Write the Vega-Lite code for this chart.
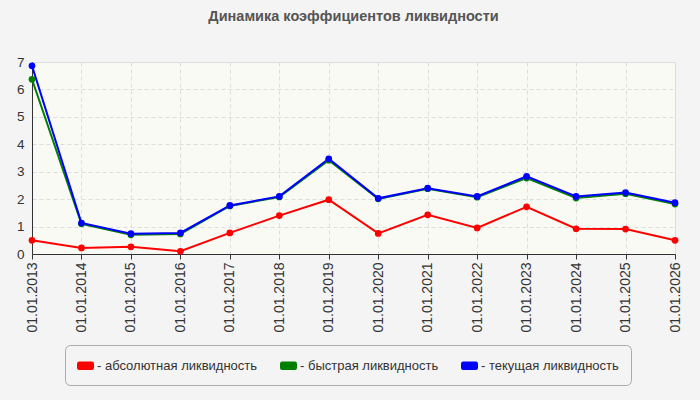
{
  "$schema": "https://vega.github.io/schema/vega-lite/v6.json",
  "autosize": "none",
  "width": 643,
  "height": 192,
  "padding": {"left": 32, "top": 62, "right": 25, "bottom": 146},
  "background": "#f4f4f4",
  "title": {"text": "Динамика коэффициентов ликвидности", "font": "Liberation Sans", "fontSize": 14.5, "fontWeight": "bold", "color": "#555555", "offset": 31, "anchor": "middle"},
  "config": {
    "font": "Liberation Sans",
    "view": {"fill": "#fafaf5", "stroke": "#dddddd"},
    "axis": {"labelFont": "Liberation Sans", "labelColor": "#333333", "domainColor": "#333333", "tickColor": "#333333", "gridColor": "#dddddd", "gridDash": [4, 3], "title": null}
  },
  "data": {"values": [
    {"date": "01.01.2013", "s": "абсолютная", "v": 0.50},
    {"date": "01.01.2014", "s": "абсолютная", "v": 0.22},
    {"date": "01.01.2015", "s": "абсолютная", "v": 0.26},
    {"date": "01.01.2016", "s": "абсолютная", "v": 0.10},
    {"date": "01.01.2017", "s": "абсолютная", "v": 0.77},
    {"date": "01.01.2018", "s": "абсолютная", "v": 1.40},
    {"date": "01.01.2019", "s": "абсолютная", "v": 1.98},
    {"date": "01.01.2020", "s": "абсолютная", "v": 0.75},
    {"date": "01.01.2021", "s": "абсолютная", "v": 1.43},
    {"date": "01.01.2022", "s": "абсолютная", "v": 0.95},
    {"date": "01.01.2023", "s": "абсолютная", "v": 1.72},
    {"date": "01.01.2024", "s": "абсолютная", "v": 0.92},
    {"date": "01.01.2025", "s": "абсолютная", "v": 0.91},
    {"date": "01.01.2026", "s": "абсолютная", "v": 0.50},
    {"date": "01.01.2013", "s": "быстрая", "v": 6.37},
    {"date": "01.01.2014", "s": "быстрая", "v": 1.10},
    {"date": "01.01.2015", "s": "быстрая", "v": 0.70},
    {"date": "01.01.2016", "s": "быстрая", "v": 0.73},
    {"date": "01.01.2017", "s": "быстрая", "v": 1.75},
    {"date": "01.01.2018", "s": "быстрая", "v": 2.08},
    {"date": "01.01.2019", "s": "быстрая", "v": 3.42},
    {"date": "01.01.2020", "s": "быстрая", "v": 2.01},
    {"date": "01.01.2021", "s": "быстрая", "v": 2.38},
    {"date": "01.01.2022", "s": "быстрая", "v": 2.07},
    {"date": "01.01.2023", "s": "быстрая", "v": 2.77},
    {"date": "01.01.2024", "s": "быстрая", "v": 2.04},
    {"date": "01.01.2025", "s": "быстрая", "v": 2.20},
    {"date": "01.01.2026", "s": "быстрая", "v": 1.82},
    {"date": "01.01.2013", "s": "текущая", "v": 6.86},
    {"date": "01.01.2014", "s": "текущая", "v": 1.13},
    {"date": "01.01.2015", "s": "текущая", "v": 0.74},
    {"date": "01.01.2016", "s": "текущая", "v": 0.77},
    {"date": "01.01.2017", "s": "текущая", "v": 1.77},
    {"date": "01.01.2018", "s": "текущая", "v": 2.10},
    {"date": "01.01.2019", "s": "текущая", "v": 3.47},
    {"date": "01.01.2020", "s": "текущая", "v": 2.03},
    {"date": "01.01.2021", "s": "текущая", "v": 2.40},
    {"date": "01.01.2022", "s": "текущая", "v": 2.10},
    {"date": "01.01.2023", "s": "текущая", "v": 2.83},
    {"date": "01.01.2024", "s": "текущая", "v": 2.10},
    {"date": "01.01.2025", "s": "текущая", "v": 2.24},
    {"date": "01.01.2026", "s": "текущая", "v": 1.87}
  ]},
  "encoding": {
    "x": {"field": "date", "type": "ordinal", "scale": {"type": "point", "padding": 0},
          "axis": {"labelAngle": -90, "labelAlign": "right", "labelBaseline": "middle", "labelFontSize": 14, "grid": true, "tickSize": 5, "labelPadding": 3}},
    "y": {"field": "v", "type": "quantitative", "scale": {"domain": [0, 7], "nice": false},
          "axis": {"values": [0, 1, 2, 3, 4, 5, 6, 7], "labelFontSize": 13.5, "tickSize": 0, "labelPadding": 8}},
    "color": {"field": "s", "type": "nominal",
      "scale": {"domain": ["абсолютная", "быстрая", "текущая"], "range": ["#ff0000", "#008000", "#0000ff"]},
      "legend": {"orient": "none", "legendX": 33, "legendY": 283, "direction": "horizontal", "title": null,
        "labelExpr": "'- ' + datum.label + ' ликвидность'",
        "symbolType": "M-0.75,-0.5H0.75Q1,-0.5 1,-0.25V0.25Q1,0.5 0.75,0.5H-0.75Q-1,0.5 -1,0.25V-0.25Q-1,-0.5 -0.75,-0.5Z",
        "symbolSize": 289, "symbolStrokeWidth": 0, "symbolOpacity": 1,
        "labelFont": "Liberation Sans", "labelFontSize": 13, "labelColor": "#333333", "labelOffset": 3,
        "columnPadding": 22, "padding": 12, "strokeColor": "#aaaaaa", "cornerRadius": 5, "labelLimit": 300}}
  },
  "layer": [
    {"mark": {"type": "line", "strokeWidth": 2}},
    {"mark": {"type": "point", "filled": true, "size": 45, "opacity": 1}}
  ]
}
